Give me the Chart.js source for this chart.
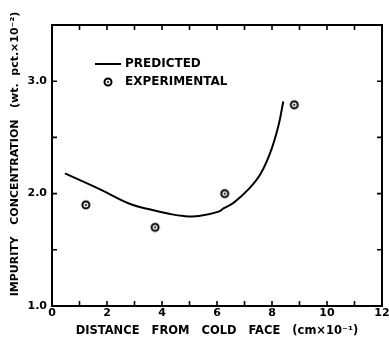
<!DOCTYPE html>
<html><head><meta charset="utf-8">
<script src="https://cdn.jsdelivr.net/npm/chart.js@4"></script>
<style>html,body{margin:0;padding:0;background:#fff}#wrap{width:389px;height:338px}</style>
</head><body><div id="wrap"><canvas id="c" width="389" height="338"></canvas></div>
<script>
const predictedX = [0.47, 1.73, 2.82, 3.54, 4.26, 4.8, 5.34, 6.06, 6.25, 6.61, 7.15, 7.57, 7.93, 8.23, 8.41];
const predictedY = [2.18, 2.04, 1.91, 1.86, 1.82, 1.80, 1.80, 1.84, 1.87, 1.92, 2.04, 2.17, 2.36, 2.60, 2.82];
const experimentalX = [1.23, 3.75, 6.28, 8.81];
const experimentalY = [1.90, 1.70, 2.00, 2.79];
const xTicks = [0, 2, 4, 6, 8, 10, 12];
const yTicks = [1.0, 2.0, 3.0];
const seriesNames = ['PREDICTED', 'EXPERIMENTAL'];
const xTitle = 'DISTANCE   FROM   COLD   FACE   (cm\u00d710\u207b\u00b9)';
const yTitle = '      IMPURITY   CONCENTRATION   (wt.  pct.\u00d710\u207b\u00b2)';

const FONT = '"DejaVu Sans", "Liberation Sans", sans-serif';

function markerCanvas() {
  const m = document.createElement('canvas');
  m.width = 12; m.height = 12;
  const g = m.getContext('2d');
  g.fillStyle = '#fff';
  g.strokeStyle = '#000';
  g.lineWidth = 2;
  g.beginPath(); g.arc(6, 6, 3.5, 0, Math.PI * 2); g.fill(); g.stroke();
  g.fillStyle = '#000';
  g.beginPath(); g.arc(6, 6, 1.1, 0, Math.PI * 2); g.fill();
  return m;
}
const marker = markerCanvas();

const framePlugin = {
  id: 'frame',
  afterDraw(chart) {
    const ctx = chart.ctx, a = chart.chartArea;
    const xs = chart.scales.x, ys = chart.scales.y;
    ctx.save();
    ctx.strokeStyle = '#000';
    ctx.lineWidth = 2;
    ctx.strokeRect(a.left, a.top, a.right - a.left, a.bottom - a.top);
    ctx.lineWidth = 1.6;
    const L = 5;
    xs.ticks.forEach(t => {
      const px = xs.getPixelForValue(t.value);
      ctx.beginPath();
      ctx.moveTo(px, a.bottom); ctx.lineTo(px, a.bottom - L);
      ctx.moveTo(px, a.top); ctx.lineTo(px, a.top + L);
      ctx.stroke();
    });
    ys.ticks.forEach(t => {
      const py = ys.getPixelForValue(t.value);
      ctx.beginPath();
      ctx.moveTo(a.left, py); ctx.lineTo(a.left + L, py);
      ctx.moveTo(a.right, py); ctx.lineTo(a.right - L, py);
      ctx.stroke();
    });
    // legend
    const lx = a.left + 43, ly1 = a.top + 39, ly2 = a.top + 57;
    ctx.lineWidth = 2;
    ctx.beginPath(); ctx.moveTo(lx, ly1); ctx.lineTo(lx + 26, ly1); ctx.stroke();
    ctx.drawImage(marker, lx + 7, ly2 - 6);
    ctx.fillStyle = '#000';
    ctx.font = 'bold 12px ' + FONT;
    ctx.textBaseline = 'middle';
    ctx.fillText(seriesNames[0], lx + 30, ly1);
    ctx.fillText(seriesNames[1], lx + 30, ly2);
    ctx.restore();
  }
};

function noPad(s) {
  s.paddingLeft = 0; s.paddingRight = 0; s.paddingTop = 0; s.paddingBottom = 0;
}

new Chart(document.getElementById('c'), {
  type: 'scatter',
  data: {
    datasets: [
      {
        label: seriesNames[0],
        data: predictedX.map((x, i) => ({x, y: predictedY[i]})),
        showLine: true,
        borderColor: '#000',
        borderWidth: 2,
        pointRadius: 0,
        tension: 0.4,
        fill: false
      },
      {
        label: seriesNames[1],
        data: experimentalX.map((x, i) => ({x, y: experimentalY[i]})),
        pointStyle: marker,
        pointRadius: 6,
        showLine: false
      }
    ]
  },
  options: {
    responsive: false,
    animation: false,
    events: [],
    layout: { padding: { top: 25, right: 3, left: 0, bottom: 0 } },
    plugins: { legend: { display: false }, tooltip: { enabled: false } },
    scales: {
      x: {
        type: 'linear', min: 0, max: 12,
        grid: { display: false, drawTicks: false },
        border: { display: false },
        ticks: {
          stepSize: 1, autoSkip: false, maxRotation: 0, padding: 1,
          color: '#000', font: { family: FONT, weight: 'bold', size: 11 },
          callback: v => xTicks.includes(v) ? String(v) : ''
        },
        title: { display: true, text: xTitle, color: '#000', padding: { top: 0, bottom: 0 },
                 font: { family: FONT, weight: 'bold', size: 11.5 } },
        afterFit: s => { s.height = 32; noPad(s); }
      },
      y: {
        type: 'linear', min: 1.0, max: 3.5,
        grid: { display: false, drawTicks: false },
        border: { display: false },
        ticks: {
          stepSize: 0.5, autoSkip: false, padding: 5,
          color: '#000', font: { family: FONT, weight: 'bold', size: 11 },
          callback: v => yTicks.includes(v) ? v.toFixed(1) : ''
        },
        title: { display: true, text: yTitle, color: '#000', padding: { top: 9, bottom: 0 },
                 font: { family: FONT, weight: 'bold', size: 11 } },
        afterFit: s => { s.width = 52; noPad(s); }
      }
    }
  },
  plugins: [framePlugin]
});
</script></body></html>
